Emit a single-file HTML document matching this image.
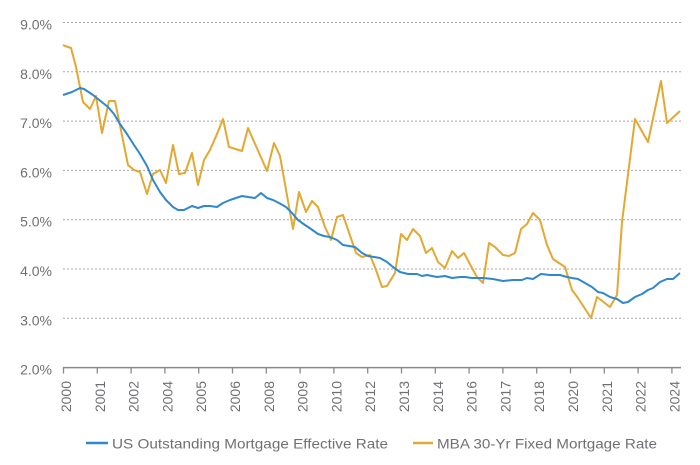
<!DOCTYPE html>
<html><head><meta charset="utf-8"><style>
html,body{margin:0;padding:0;background:#fff;}
svg{display:block;}
text{font-family:"Liberation Sans",sans-serif;fill:#707074;}
</style></head><body>
<svg width="700" height="465" viewBox="0 0 700 465" xmlns="http://www.w3.org/2000/svg">
<g stroke="#a8a8a8" stroke-width="1" stroke-dasharray="2,2">
<line x1="63" y1="22.5" x2="681" y2="22.5"/>
<line x1="63" y1="71.8" x2="681" y2="71.8"/>
<line x1="63" y1="121.1" x2="681" y2="121.1"/>
<line x1="63" y1="170.4" x2="681" y2="170.4"/>
<line x1="63" y1="219.7" x2="681" y2="219.7"/>
<line x1="63" y1="269" x2="681" y2="269"/>
<line x1="63" y1="318.3" x2="681" y2="318.3"/>
</g>
<g font-size="14" text-anchor="end">
<text x="52" y="29.5">9.0%</text>
<text x="52" y="78.8">8.0%</text>
<text x="52" y="128.1">7.0%</text>
<text x="52" y="177.4">6.0%</text>
<text x="52" y="226.7">5.0%</text>
<text x="52" y="276">4.0%</text>
<text x="52" y="325.3">3.0%</text>
<text x="52" y="374.6">2.0%</text>
</g>
<line x1="63" y1="367.6" x2="681" y2="367.6" stroke="#8a8a8e" stroke-width="1.5"/>
<g stroke="#8a8a8e" stroke-width="1.3">
<line x1="63.5" y1="367" x2="63.5" y2="373.5"/>
<line x1="97.3" y1="367" x2="97.3" y2="373.5"/>
<line x1="131.1" y1="367" x2="131.1" y2="373.5"/>
<line x1="164.9" y1="367" x2="164.9" y2="373.5"/>
<line x1="198.7" y1="367" x2="198.7" y2="373.5"/>
<line x1="232.5" y1="367" x2="232.5" y2="373.5"/>
<line x1="266.3" y1="367" x2="266.3" y2="373.5"/>
<line x1="300.1" y1="367" x2="300.1" y2="373.5"/>
<line x1="333.9" y1="367" x2="333.9" y2="373.5"/>
<line x1="367.7" y1="367" x2="367.7" y2="373.5"/>
<line x1="401.5" y1="367" x2="401.5" y2="373.5"/>
<line x1="435.3" y1="367" x2="435.3" y2="373.5"/>
<line x1="469.1" y1="367" x2="469.1" y2="373.5"/>
<line x1="502.9" y1="367" x2="502.9" y2="373.5"/>
<line x1="536.7" y1="367" x2="536.7" y2="373.5"/>
<line x1="570.5" y1="367" x2="570.5" y2="373.5"/>
<line x1="604.3" y1="367" x2="604.3" y2="373.5"/>
<line x1="638.1" y1="367" x2="638.1" y2="373.5"/>
<line x1="671.9" y1="367" x2="671.9" y2="373.5"/>
</g>
<g font-size="14" text-anchor="end">
<text transform="translate(71,381) rotate(-90)">2000</text>
<text transform="translate(104.8,381) rotate(-90)">2001</text>
<text transform="translate(138.6,381) rotate(-90)">2002</text>
<text transform="translate(172.4,381) rotate(-90)">2004</text>
<text transform="translate(206.2,381) rotate(-90)">2005</text>
<text transform="translate(240,381) rotate(-90)">2006</text>
<text transform="translate(273.8,381) rotate(-90)">2008</text>
<text transform="translate(307.6,381) rotate(-90)">2009</text>
<text transform="translate(341.4,381) rotate(-90)">2010</text>
<text transform="translate(375.2,381) rotate(-90)">2012</text>
<text transform="translate(409,381) rotate(-90)">2013</text>
<text transform="translate(442.8,381) rotate(-90)">2014</text>
<text transform="translate(476.6,381) rotate(-90)">2016</text>
<text transform="translate(510.4,381) rotate(-90)">2017</text>
<text transform="translate(544.2,381) rotate(-90)">2018</text>
<text transform="translate(578,381) rotate(-90)">2020</text>
<text transform="translate(611.8,381) rotate(-90)">2021</text>
<text transform="translate(645.6,381) rotate(-90)">2022</text>
<text transform="translate(679.4,381) rotate(-90)">2024</text>
</g>
<polyline fill="none" stroke="#e3a832" stroke-width="2" stroke-linejoin="round" points="63,45 65,46 71,48 76,67 83,102 90,109 96,96 102,133 109,101 115,101 128,165 134,170 140,172 147,194 153,174 160,170 166,183 173,145 179,174 185,173 192,153 198,185 204,160 210,150 217,134 223,119 229,147 242,151 248,128 267,171 274,143 280,156 293,229 299,192 306,212 312,201 318,207 325,227 331,240 337,217 343,215 356,253 362,257 370,255 376,270 382,287 387,286 395,273 401,234 407,240 413,229 420,236 426,253 432,248 438,262 445,268 452,251 458,258 464,253 472,268 477,277 483,283 489,243 495,247 503,255 509,256 515,253 521,229 527,224 533,213 540,220 547,245 553,259 559,263 565,267 572,290 578,298 591,318 597,297 610,307 617,295 622,222 635,119 648,142 661,81 667,123 680,111"/>
<polyline fill="none" stroke="#2f88cc" stroke-width="2" stroke-linejoin="round" points="63,95 72,92 80,88 84,89 93,95 108,107 114,114 120,124 127,134 134,145 140,154 147,166 153,180 160,192 166,200 173,207 178,210 184,210 188,208 192,206 198,208 204,206 210,206 217,207 223,203 230,200 236,198 242,196 248,197 255,198 261,193 267,198 273,200 279,203 286,207 292,213 298,220 305,225 311,229 318,234 324,236 330,237 337,240 343,245 349,246 355,247 362,253 368,256 374,257 380,258 387,262 393,267 400,272 408,274 417,274 422,276 427,275 437,277 445,276 452,278 460,277 465,277 472,278 483,278 493,279 503,281 513,280 522,280 527,278 533,279 541,274 550,275 560,275 567,277 572,278 578,279 585,283 592,287 598,292 603,293 610,297 617,299 623,303 628,302 635,297 642,294 648,290 653,288 660,282 667,279 673,279 680,273"/>
<line x1="86" y1="443" x2="108" y2="443" stroke="#2f88cc" stroke-width="2.5"/>
<text x="112" y="448.5" font-size="14" textLength="276" lengthAdjust="spacingAndGlyphs">US Outstanding Mortgage Effective Rate</text>
<line x1="413" y1="443" x2="433" y2="443" stroke="#e3a832" stroke-width="2.5"/>
<text x="437" y="448.5" font-size="14" textLength="220" lengthAdjust="spacingAndGlyphs">MBA 30-Yr Fixed Mortgage Rate</text>
</svg>
</body></html>
